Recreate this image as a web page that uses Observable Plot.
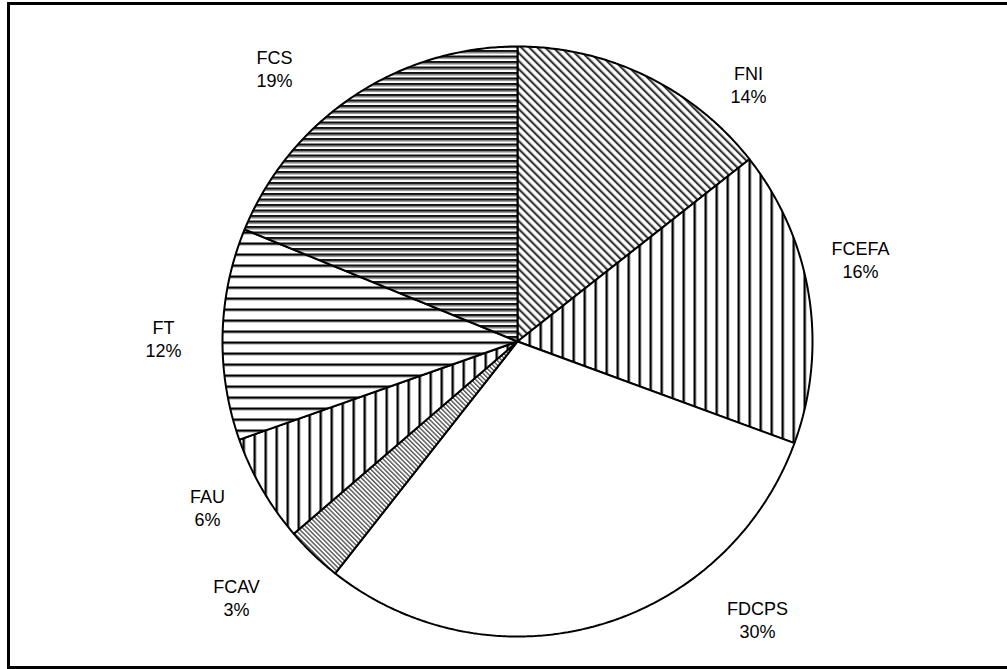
<!DOCTYPE html>
<html><head><meta charset="utf-8">
<script src="https://cdn.jsdelivr.net/npm/d3@7"></script>
<script src="https://cdn.jsdelivr.net/npm/@observablehq/plot@0.6"></script>
<style>
html,body{margin:0;padding:0;background:#fff;overflow:hidden}
#frame{position:absolute;left:7px;top:2px;width:1010px;height:667px;border:3px solid #000;box-sizing:border-box;pointer-events:none}
#chart{position:absolute;left:0;top:0}
</style></head><body>
<div id="chart"></div><div id="frame"></div>
<script>
// ---- data ----
const categories = ["FNI", "FCEFA", "FDCPS", "FCAV", "FAU", "FT", "FCS"];
const shares = [14.4, 16.2, 30.0, 3.1, 5.9, 11.6, 18.8];
const patternIds = ["p-diag", "p-vert", "p-none", "p-fine", "p-vert", "p-hline", "p-hdense"];
// label anchor offsets from pie centre, in pixels (layout)
const labelOffsets = [[231, -257], [343, -82], [240, 278], [-281, 256], [-310, 166], [-354, -3], [-243, -273]];

// ---- layout ----
const W = 1007, H = 669, cx = 517, cy = 341, R = 295;
const total = d3.sum(shares);
let cum = 0;
const slices = categories.map((name, i) => {
  const a0 = cum / total * 2 * Math.PI;
  cum += shares[i];
  const a1 = cum / total * 2 * Math.PI;
  const n = Math.max(2, Math.ceil((a1 - a0) / (Math.PI / 360)));
  const pts = [{x: 0, y: 0}];
  for (let k = 0; k <= n; k++) {
    const a = a0 + (a1 - a0) * k / n;
    pts.push({x: Math.sin(a), y: -Math.cos(a)});
  }
  return {name, value: shares[i], pct: Math.round(shares[i] / total * 100) + "%", pts, pattern: patternIds[i],
    lx: labelOffsets[i][0] / R, ly: labelOffsets[i][1] / R};
});

const plot = Plot.plot({
  width: W, height: H,
  margin: 0,
  x: {domain: [-cx / R, (W - cx) / R], range: [0, W], axis: null},
  y: {domain: [-cy / R, (H - cy) / R], range: [0, H], axis: null},
  style: {background: "transparent", overflow: "visible"},
  marks: [
    ...slices.map(s => Plot.line(s.pts, {
      x: "x", y: "y", curve: "linear-closed",
      fill: s.pattern === "p-none" ? "white" : `url(#${s.pattern})`,
      stroke: "black", strokeWidth: 2, strokeLinejoin: "miter"
    })),
    Plot.text(slices, {
      x: "lx", y: "ly",
      text: d => `${d.name}\n${d.pct}`,
      fontSize: 18, lineHeight: 1.25,
      fontFamily: "'Liberation Sans', Arial, sans-serif",
      fill: "black", textAnchor: "middle", lineAnchor: "middle"
    })
  ]
});

// pattern definitions
const svg = d3.select(plot);
const defs = svg.insert("defs", ":first-child");
function pat(id, w, h, transform) {
  const p = defs.append("pattern").attr("id", id).attr("patternUnits", "userSpaceOnUse")
    .attr("width", w).attr("height", h);
  if (transform) p.attr("patternTransform", transform);
  p.append("rect").attr("width", w).attr("height", h).attr("fill", "white");
  return p;
}
let p = pat("p-diag", 5.66, 10, "rotate(-45)");
p.append("rect").attr("x", 0).attr("width", 2.2).attr("height", 10).attr("fill", "#3a3a3a");
p = pat("p-fine", 3.2, 10, "rotate(-45)");
p.append("rect").attr("x", 0).attr("width", 1.4).attr("height", 10).attr("fill", "#555");
p = pat("p-vert", 11, 11);
p.append("rect").attr("x", 0).attr("width", 2).attr("height", 11).attr("fill", "#000");
p.append("rect").attr("x", 2).attr("width", 1).attr("height", 11).attr("fill", "#999");
p = pat("p-hline", 11, 11);
p.append("rect").attr("y", 0).attr("height", 2).attr("width", 11).attr("fill", "#000");
p.append("rect").attr("y", 2).attr("height", 1).attr("width", 11).attr("fill", "#999");
p = pat("p-hdense", 5.5, 5.5);
p.append("rect").attr("y", 0).attr("height", 2.4).attr("width", 5.5).attr("fill", "#111");
p.append("rect").attr("y", 2.4).attr("height", 1.2).attr("width", 5.5).attr("fill", "#999");

document.getElementById("chart").appendChild(plot);
</script>
</body></html>
